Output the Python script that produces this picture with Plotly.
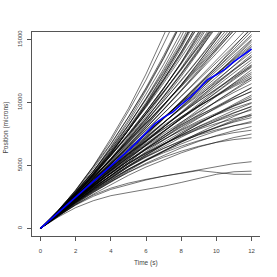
import plotly.graph_objects as go

time_s = [0, 1, 2, 3, 4, 5, 6, 7, 8, 9, 10, 11, 12]

trajectories = [
    [0, 1380, 3060, 4930, 7140, 9520, 12260, 15170, 18400, 21850, 25600, 29560, 33820],
    [0, 1420, 3020, 4910, 6950, 9300, 11790, 14560, 17500, 20720, 24100, 27760, 31600],
    [0, 1290, 2830, 4520, 6490, 8590, 10970, 13480, 16280, 19230, 22420, 25800, 29400],
    [0, 1440, 3010, 4820, 6720, 8850, 11080, 13550, 16120, 18900, 21840, 24930, 28200],
    [0, 1330, 2860, 4520, 6420, 8430, 10660, 13020, 15610, 18330, 21260, 24330, 27600],
    [0, 1240, 2620, 4210, 5920, 7850, 9890, 12150, 14520, 17100, 19840, 22730, 25800],
    [0, 1360, 2890, 4510, 6320, 8220, 10310, 12490, 14850, 17320, 19950, 22700, 25600],
    [0, 1280, 2670, 4240, 5900, 7750, 9690, 11810, 14030, 16430, 18940, 21610, 24400],
    [0, 1300, 2760, 4300, 6010, 7800, 9760, 11800, 14010, 16300, 18760, 21300, 24000],
    [0, 1390, 2900, 4470, 6190, 7950, 9860, 11820, 13920, 16080, 18370, 20720, 23200],
    [0, 1210, 2510, 3960, 5480, 7150, 8890, 10780, 12740, 14860, 17050, 19380, 21800],
    [0, 1290, 2700, 4170, 5790, 7450, 9260, 11120, 13120, 15180, 17370, 19620, 22000],
    [0, 1350, 2760, 4290, 5850, 7550, 9290, 11150, 13060, 15080, 17160, 19350, 21600],
    [0, 1250, 2560, 3990, 5450, 7050, 8690, 10450, 12260, 14180, 16160, 18250, 20400],
    [0, 1280, 2650, 4050, 5570, 7110, 8760, 10440, 12230, 14050, 15980, 17940, 20000],
    [0, 1370, 2820, 4290, 5860, 7430, 9110, 10800, 12590, 14390, 16290, 18200, 20200],
    [0, 1190, 2430, 3770, 5140, 6630, 8140, 9760, 11410, 13170, 14960, 16860, 18800],
    [0, 1270, 2620, 3990, 5460, 6930, 8510, 10100, 11790, 13490, 15290, 17100, 19000],
    [0, 1330, 2670, 4100, 5520, 7030, 8540, 10130, 11720, 13390, 15080, 16830, 18600],
    [0, 1220, 2490, 3780, 5140, 6510, 7960, 9410, 10940, 12480, 14090, 15710, 17400],
    [0, 1260, 2560, 3870, 5230, 6590, 8010, 9420, 10900, 12370, 13890, 15440, 17000],
    [0, 1360, 2720, 4120, 5500, 6930, 8340, 9800, 11240, 12720, 14190, 15700, 17200],
    [0, 1210, 2420, 3670, 4900, 6180, 7440, 8750, 10040, 11370, 12690, 14050, 15400],
    [0, 1240, 2510, 3740, 5010, 6240, 7510, 8740, 10010, 11240, 12520, 13740, 15000],
    [0, 1157, 2328, 3513, 4711, 5924, 7150, 8390, 9644, 10913, 12194, 13490, 14800],
    [0, 1293, 2572, 3837, 5089, 6326, 7550, 8760, 9956, 11137, 12306, 13460, 14600],
    [0, 1200, 2380, 3620, 4790, 6030, 7180, 8420, 9610, 10780, 12020, 13190, 14400],
    [0, 1107, 2228, 3363, 4511, 5674, 6850, 8040, 9244, 10463, 11694, 12940, 14200],
    [0, 1243, 2472, 3687, 4889, 6076, 7250, 8410, 9556, 10687, 11806, 12910, 14000],
    [0, 1150, 2320, 3440, 4610, 5740, 6920, 8040, 9210, 10340, 11520, 12640, 13800],
    [0, 1286, 2544, 3775, 4978, 6153, 7300, 8419, 9511, 10575, 11611, 12619, 13600],
    [0, 1193, 2372, 3537, 4689, 5826, 6950, 8060, 9156, 10237, 11306, 12360, 13400],
    [0, 1100, 2210, 3290, 4410, 5490, 6610, 7690, 8810, 9890, 11010, 12090, 13200],
    [0, 1236, 2444, 3625, 4778, 5903, 7000, 8069, 9111, 10125, 11111, 12069, 13000],
    [0, 1143, 2272, 3387, 4489, 5576, 6650, 7710, 8756, 9787, 10806, 11810, 12800],
    [0, 1050, 2110, 3140, 4210, 5240, 6310, 7340, 8410, 9440, 10510, 11540, 12600],
    [0, 1186, 2344, 3475, 4578, 5653, 6700, 7719, 8711, 9675, 10611, 11519, 12400],
    [0, 1276, 2503, 3681, 4811, 5892, 6925, 7909, 8844, 9731, 10569, 11359, 12100],
    [0, 1136, 2244, 3325, 4378, 5403, 6400, 7369, 8311, 9225, 10111, 10969, 11800],
    [0, 1226, 2403, 3531, 4611, 5642, 6625, 7559, 8444, 9281, 10069, 10809, 11500],
    [0, 1086, 2144, 3175, 4178, 5153, 6100, 7019, 7911, 8775, 9611, 10419, 11200],
    [0, 1176, 2303, 3381, 4411, 5392, 6325, 7209, 8044, 8831, 9569, 10259, 10900],
    [0, 1036, 2044, 3025, 3978, 4903, 5800, 6669, 7511, 8325, 9111, 9869, 10600],
    [0, 1126, 2203, 3231, 4211, 5142, 6025, 6859, 7644, 8381, 9069, 9709, 10300],
    [0, 1215, 2361, 3437, 4444, 5382, 6250, 7049, 7778, 8437, 9028, 9549, 10000],
    [0, 1076, 2103, 3081, 4011, 4892, 5725, 6509, 7244, 7931, 8569, 9159, 9700],
    [0, 1165, 2261, 3287, 4244, 5132, 5950, 6699, 7378, 7987, 8528, 8999, 9400],
    [0, 1026, 2003, 2931, 3811, 4642, 5425, 6159, 6844, 7481, 8069, 8609, 9100],
    [0, 1115, 2161, 3137, 4044, 4882, 5650, 6349, 6978, 7537, 8028, 8449, 8800],
    [0, 1067, 2069, 3006, 3878, 4684, 5425, 6101, 6711, 7256, 7736, 8151, 8500],
    [0, 1158, 2233, 3225, 4133, 4958, 5700, 6358, 6933, 7425, 7833, 8158, 8400],
    [0, 1019, 1975, 2869, 3700, 4469, 5175, 5819, 6400, 6919, 7375, 7769, 8100],
    [0, 1108, 2133, 3075, 3933, 4708, 5400, 6008, 6533, 6975, 7333, 7608, 7800],
    [0, 969, 1875, 2719, 3500, 4219, 4875, 5469, 6000, 6469, 6875, 7219, 7500],
    [0, 1058, 2033, 2925, 3733, 4458, 5100, 5658, 6133, 6525, 6833, 7058, 7200],
    [0, 900, 1650, 2200, 2600, 2850, 3050, 3350, 3650, 4000, 4300, 4500, 4550],
    [0, 1000, 1850, 2550, 3100, 3500, 3850, 4150, 4400, 4600, 4450, 4300, 4300],
    [0, 1000, 1900, 2650, 3200, 3600, 3900, 4150, 4400, 4650, 4900, 5150, 5300],
    [0, 1377, 2949, 4715, 6676, 8831, 11180, 13724, 16462, 19395, 22522, 25844, 29360],
    [0, 1256, 2666, 4228, 5942, 7810, 9830, 12003, 14329, 16808, 19439, 22223, 25160],
    [0, 1393, 2910, 4553, 6320, 8213, 10230, 12373, 14640, 17033, 19550, 22193, 24960],
    [0, 1186, 2504, 3954, 5536, 7249, 9095, 11073, 13182, 15424, 17797, 20303, 22940],
    [0, 1282, 2668, 4159, 5753, 7452, 9255, 11162, 13173, 15289, 17508, 19832, 22260],
    [0, 1318, 2713, 4184, 5731, 7355, 9055, 10832, 12684, 14614, 16619, 18702, 20860],
    [0, 1225, 2541, 3946, 5442, 7028, 8705, 10472, 12329, 14276, 16314, 18442, 20660],
    [0, 1361, 2785, 4271, 5820, 7431, 9105, 10841, 12640, 14501, 16425, 18411, 20460],
    [0, 1158, 2393, 3704, 5091, 6555, 8095, 9712, 11404, 13174, 15019, 16942, 18940],
    [0, 1254, 2557, 3909, 5309, 6758, 8255, 9801, 11396, 13039, 14731, 16471, 18260],
    [0, 1297, 2629, 3996, 5398, 6834, 8305, 9811, 11351, 12926, 14536, 16181, 17860],
    [0, 1204, 2457, 3759, 5109, 6508, 7955, 9451, 10996, 12589, 14231, 15921, 17660],
    [0, 1340, 2702, 4084, 5487, 6910, 8355, 9820, 11307, 12814, 14342, 15890, 17460],
    [0, 1137, 2309, 3516, 4758, 6130, 7345, 8691, 10071, 11486, 12850, 14421, 15940],
    [0, 1240, 2502, 3784, 5087, 6410, 7755, 9120, 10507, 11914, 13342, 14790, 16260],
    [0, 1190, 2402, 3634, 4887, 6160, 7455, 8770, 10107, 11464, 12842, 14240, 15660],
    [0, 1283, 2574, 3871, 5176, 6487, 7805, 9130, 10462, 11801, 13147, 14500, 15860],
    [0, 1233, 2474, 3721, 4976, 6237, 7505, 8780, 10062, 11351, 12647, 13950, 15260],
    [0, 1130, 2282, 3454, 4647, 5860, 7095, 8350, 9627, 10924, 12242, 13580, 14940],
    [0, 1320, 2618, 3896, 5153, 6390, 7605, 8800, 9973, 11126, 12258, 13370, 14460],
    [0, 1177, 2346, 3509, 4664, 5813, 6955, 8190, 9150, 10339, 11453, 12560, 13660],
    [0, 1263, 2491, 3684, 4842, 5966, 7055, 8109, 9129, 10114, 11064, 11979, 12860],
    [0, 1117, 2226, 3329, 4424, 5513, 6595, 7670, 8738, 9799, 10853, 11900, 12940],
    [0, 1213, 2391, 3534, 4642, 5716, 6755, 7759, 8729, 9664, 10564, 11429, 12260],
    [0, 1302, 2549, 3740, 4876, 5956, 6980, 7949, 8862, 9720, 10522, 11269, 11960],
    [0, 1073, 2132, 3177, 4209, 5226, 6330, 7220, 8196, 9050, 10106, 11040, 11960],
    [0, 1159, 2277, 3352, 4387, 5379, 6330, 7239, 8107, 8932, 9717, 10459, 11160],
    [0, 1249, 2435, 3559, 4620, 5619, 6555, 7429, 8240, 8989, 9675, 10299, 10860],
    [0, 1063, 2091, 3084, 4042, 4966, 5855, 6709, 7529, 8314, 9064, 9779, 10460],
    [0, 1199, 2335, 3409, 4420, 5369, 6255, 7079, 7840, 8539, 9175, 9749, 10260],
    [0, 1096, 2143, 3141, 4091, 4992, 5845, 6649, 7404, 8111, 8769, 9379, 9940],
    [0, 1149, 2235, 3259, 4220, 5119, 5955, 6729, 7440, 8089, 8675, 9199, 9660],
    [0, 983, 1931, 2844, 3722, 4566, 5375, 6149, 6889, 7594, 8264, 8899, 9500],
    [0, 1052, 2049, 2990, 3876, 4706, 5480, 6199, 6862, 7470, 8022, 8519, 8960],
    [0, 1208, 2333, 3375, 4333, 5208, 6000, 6708, 7333, 7875, 8333, 8708, 9000],
    [0, 1336, 2782, 4340, 6009, 7789, 9680, 11682, 13796, 16020, 18356, 20802, 23360],
    [0, 1270, 2721, 4353, 6164, 8157, 10330, 12684, 15218, 17933, 20828, 23904, 27160],
    [0, 1303, 2752, 4346, 6087, 7973, 10005, 12183, 14507, 16976, 19592, 22353, 25260],
    [0, 1169, 2434, 3798, 5258, 6815, 8470, 10222, 12071, 14018, 16061, 18202, 20440],
    [0, 1375, 2841, 4396, 6042, 7778, 9605, 11522, 13529, 15626, 17814, 20092, 22460],
]

mean_time_s = [0, 0.5, 1, 1.5, 2, 2.5, 3, 3.5, 4, 4.5, 5, 5.5, 6, 6.5, 7, 7.5,
               8, 8.5, 9, 9.5, 10, 10.5, 11, 11.5, 12]
mean_position = [0, 620, 1240, 1850, 2450, 3060, 3680, 4270, 4900, 5540, 6200,
                 6880, 7560, 8300, 8820, 9220, 9830, 10400, 11080, 11820, 12200,
                 12650, 13250, 13750, 14250]

x_ticks = [0, 2, 4, 6, 8, 10, 12]
y_ticks = [0, 5000, 10000, 15000]

FONT = "Liberation Sans, Arial, sans-serif"

fig = go.Figure()
for traj in trajectories:
    fig.add_trace(go.Scatter(x=time_s, y=traj, mode="lines",
                             line=dict(color="rgba(0,0,0,0.6)", width=0.9),
                             hoverinfo="skip", showlegend=False))
fig.add_trace(go.Scatter(x=mean_time_s, y=mean_position, mode="lines",
                         line=dict(color="#0000ff", width=1.6),
                         hoverinfo="skip", showlegend=False))

axis_common = dict(showgrid=False, zeroline=False, showline=True,
                   linecolor="#555555", linewidth=1, ticks="outside",
                   ticklen=4, tickcolor="#555555", tickwidth=1,
                   tickfont=dict(family=FONT, size=6, color="#444444"))

fig.update_layout(
    width=277, height=277,
    margin=dict(l=32, r=17, t=32, b=41),
    paper_bgcolor="white", plot_bgcolor="white",
    xaxis=dict(range=[-0.48, 12.48], tickvals=x_ticks,
               ticktext=[str(v) for v in x_ticks], mirror=True,
               ticklabelstandoff=5, **axis_common),
    yaxis=dict(range=[-600, 15600], tickvals=y_ticks,
               ticktext=[str(v) for v in y_ticks], tickangle=-90,
               ticklabelstandoff=3, **axis_common),
    annotations=[
        dict(text="Time (s)", xref="paper", yref="paper", x=0.5, y=-0.132,
             showarrow=False, xanchor="center", yanchor="middle",
             font=dict(family=FONT, size=6.5, color="#444444")),
        dict(text="Position (microns)", xref="paper", yref="paper", x=-0.112,
             y=0.534, showarrow=False, textangle=-90, xanchor="center",
             yanchor="middle", font=dict(family=FONT, size=6.5, color="#444444")),
    ],
)

fig.write_html("out.html",
               config={"displayModeBar": False, "staticPlot": True},
               post_script="document.body.style.margin='0';"
                           "document.body.style.overflow='hidden';")
